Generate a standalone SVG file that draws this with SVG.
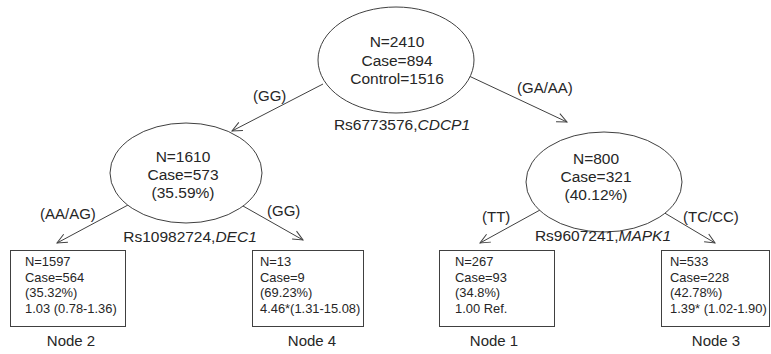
<svg xmlns="http://www.w3.org/2000/svg" width="771" height="354" viewBox="0 0 771 354">
<style>
.bg{fill:#ffffff}
.ell{fill:#ffffff;stroke:#404040;stroke-width:1}
.box{fill:#ffffff;stroke:#404040;stroke-width:1}
.t{font-family:"Liberation Sans",Arial,sans-serif;fill:#262626}
.et{font-size:15.5px;text-anchor:middle}
.bt{font-size:12.9px}
.lab{font-size:15px}
.nl{font-size:15px;text-anchor:middle}
.edge{stroke:#404040;stroke-width:1;fill:none;marker-end:url(#arr)}
</style>
<defs>
<marker id="arr" markerUnits="userSpaceOnUse" markerWidth="14" markerHeight="14" refX="11" refY="6" orient="auto">
<path d="M1,1.5 L11,6 L1,10.5" fill="none" stroke="#404040" stroke-width="1"/>
</marker>
</defs>
<rect class="bg" x="0" y="0" width="771" height="354"/>
<g id="connectors">
<line class="edge" x1="323" y1="84" x2="232" y2="131"/>
<line class="edge" x1="469" y1="76" x2="567" y2="122"/>
<line class="edge" x1="128" y1="205" x2="57" y2="243"/>
<line class="edge" x1="243" y1="206" x2="303" y2="240"/>
<line class="edge" x1="540" y1="210" x2="480" y2="243"/>
<line class="edge" x1="663" y1="212" x2="715" y2="243"/>
<text class="t lab" x="253" y="101">(GG)</text>
<text class="t lab" x="517" y="93">(GA/AA)</text>
<text class="t lab" x="40" y="219">(AA/AG)</text>
<text class="t lab" x="267" y="216">(GG)</text>
<text class="t lab" x="482" y="222">(TT)</text>
<text class="t lab" x="683" y="222">(TC/CC)</text>
</g>
<g id="root">
<ellipse class="ell" cx="396" cy="60" rx="78" ry="53"/>
<text class="t et" x="397" y="47">N=2410</text>
<text class="t et" x="397" y="66">Case=894</text>
<text class="t et" x="397" y="84">Control=1516</text>
<text class="t et" x="402" y="130">Rs6773576,<tspan font-style="italic">CDCP1</tspan></text>
</g>
<g id="left">
<ellipse class="ell" cx="186" cy="173" rx="76" ry="50"/>
<text class="t et" x="183" y="162">N=1610</text>
<text class="t et" x="183" y="180">Case=573</text>
<text class="t et" x="183" y="198">(35.59%)</text>
<text class="t et" x="190" y="242">Rs10982724,<tspan font-style="italic">DEC1</tspan></text>
</g>
<g id="right">
<ellipse class="ell" cx="604" cy="182" rx="78" ry="50"/>
<text class="t et" x="596" y="164">N=800</text>
<text class="t et" x="596" y="182">Case=321</text>
<text class="t et" x="596" y="200">(40.12%)</text>
<text class="t et" x="603" y="241">Rs9607241,<tspan font-style="italic">MAPK1</tspan></text>
</g>
<g id="node2">
<rect class="box" x="10.5" y="250.5" width="115" height="76"/>
<text class="t bt" x="25" y="266">N=1597</text>
<text class="t bt" x="25" y="281.5">Case=564</text>
<text class="t bt" x="25" y="297">(35.32%)</text>
<text class="t bt" x="25" y="312.5">1.03 (0.78-1.36)</text>
<text class="t nl" x="71" y="346">Node 2</text>
</g>
<g id="node4">
<rect class="box" x="252.5" y="250.5" width="111" height="76"/>
<text class="t bt" x="260" y="266">N=13</text>
<text class="t bt" x="260" y="281.5">Case=9</text>
<text class="t bt" x="260" y="297">(69.23%)</text>
<text class="t bt" x="260" y="312.5">4.46*(1.31-15.08)</text>
<text class="t nl" x="312" y="346">Node 4</text>
</g>
<g id="node1">
<rect class="box" x="439.5" y="250.5" width="115" height="76"/>
<text class="t bt" x="455" y="266">N=267</text>
<text class="t bt" x="455" y="281.5">Case=93</text>
<text class="t bt" x="455" y="297">(34.8%)</text>
<text class="t bt" x="455" y="312.5">1.00 Ref.</text>
<text class="t nl" x="494" y="346">Node 1</text>
</g>
<g id="node3">
<rect class="box" x="661.5" y="250.5" width="108" height="76"/>
<text class="t bt" x="670" y="266">N=533</text>
<text class="t bt" x="670" y="281.5">Case=228</text>
<text class="t bt" x="670" y="297">(42.78%)</text>
<text class="t bt" x="670" y="312.5">1.39* (1.02-1.90)</text>
<text class="t nl" x="716" y="346">Node 3</text>
</g>
</svg>
